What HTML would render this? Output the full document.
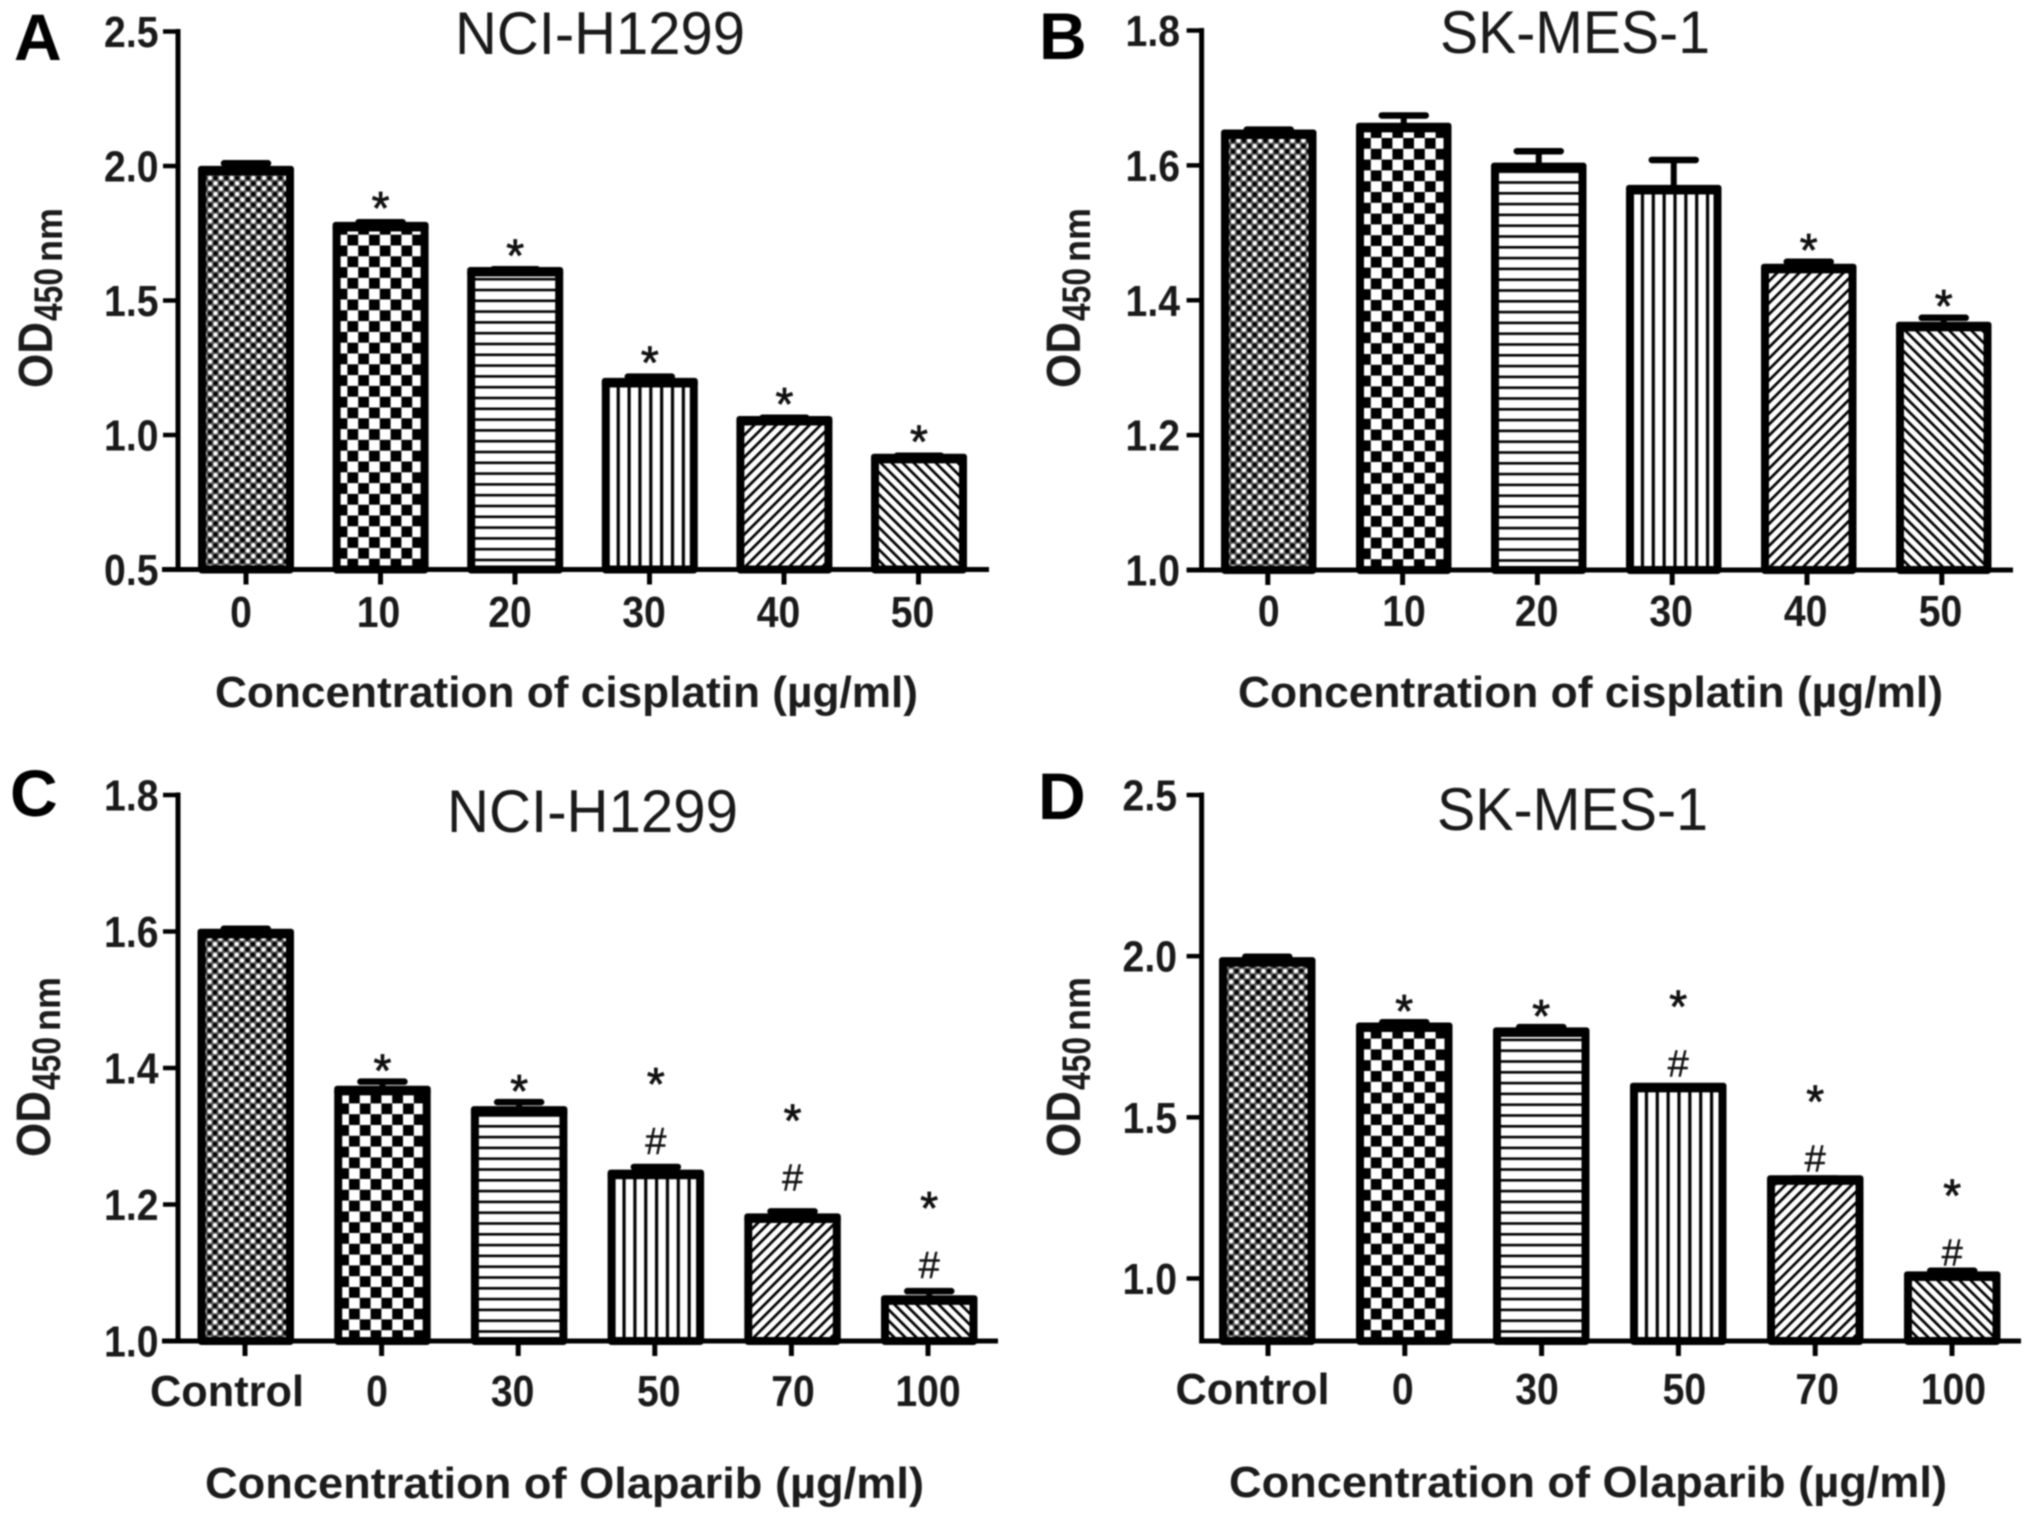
<!DOCTYPE html>
<html lang="en">
<head>
<meta charset="utf-8">
<title>OD450 bar charts: cisplatin and Olaparib</title>
<style>
  html, body { margin: 0; padding: 0; background: #fff; }
  body { width: 2031px; height: 1521px; overflow: hidden; }
  svg { display: block; filter: blur(0.8px); }
  text { font-family: "Liberation Sans", Arial, sans-serif; fill: #111; }
  .letter { font-size: 66px; font-weight: 700; fill: #000; }
  .title { font-size: 60px; fill: #1a1a1a; }
  .xtitle { font-size: 44px; font-weight: 700; fill: #1c1c1c; }
  .ytitle { font-weight: 700; fill: #1c1c1c; }
  .tick { font-size: 44px; font-weight: 700; fill: #1a1a1a; }
</style>
</head>
<body>
<svg id="figure" xmlns="http://www.w3.org/2000/svg" width="2031" height="1521" viewBox="0 0 2031 1521">
  <rect width="2031" height="1521" fill="#fff"/>
  <defs>
    <pattern id="p-dots" width="10.8" height="10.8" patternUnits="userSpaceOnUse">
      <rect width="10.8" height="10.8" fill="#5c5c5c"/>
      <circle cx="2.7" cy="2.7" r="2.2" fill="#fff"/>
      <circle cx="8.1" cy="8.1" r="2.2" fill="#fff"/>
      <circle cx="8.1" cy="2.7" r="2.2" fill="#000"/>
      <circle cx="2.7" cy="8.1" r="2.2" fill="#000"/>
    </pattern>
    <pattern id="p-check" width="21.6" height="21.6" patternUnits="userSpaceOnUse">
      <rect width="21.6" height="21.6" fill="#fff"/>
      <rect width="10.8" height="10.8" fill="#000"/>
      <rect x="10.8" y="10.8" width="10.8" height="10.8" fill="#000"/>
    </pattern>
    <pattern id="p-horizontal" width="10.8" height="10.8" patternUnits="userSpaceOnUse">
      <rect width="10.8" height="10.8" fill="#fff"/>
      <rect y="0" width="10.8" height="2.6" fill="#000"/>
    </pattern>
    <pattern id="p-vertical" width="10.85" height="10.8" patternUnits="userSpaceOnUse">
      <rect width="10.85" height="10.8" fill="#fff"/>
      <rect x="0" width="3.2" height="10.8" fill="#000"/>
    </pattern>
    <pattern id="p-diag-up" width="7.8" height="7.8" patternUnits="userSpaceOnUse" patternTransform="rotate(45)">
      <rect width="7.8" height="7.8" fill="#fff"/>
      <rect width="2.7" height="7.8" fill="#000"/>
    </pattern>
    <pattern id="p-diag-down" width="7.8" height="7.8" patternUnits="userSpaceOnUse" patternTransform="rotate(-45)">
      <rect width="7.8" height="7.8" fill="#fff"/>
      <rect width="2.7" height="7.8" fill="#000"/>
    </pattern>
  </defs>

  <g>
    <text class="letter" x="14" y="60">A</text>
    <text class="title" x="455" y="54" textLength="290" lengthAdjust="spacingAndGlyphs">NCI-H1299</text>
    <g transform="translate(52,388) rotate(-90)">
      <text class="ytitle" font-size="48" textLength="66" lengthAdjust="spacingAndGlyphs">OD</text>
      <text class="ytitle" x="67" y="10" font-size="40" textLength="53" lengthAdjust="spacingAndGlyphs">450</text>
      <text class="ytitle" x="126" y="10" font-size="38" textLength="54" lengthAdjust="spacingAndGlyphs">nm</text>
    </g>
    <text class="xtitle" x="215" y="707" textLength="703" lengthAdjust="spacingAndGlyphs">Concentration of cisplatin (µg/ml)</text>
    <g id="plot-a"></g>
  </g>

  <g>
    <text class="letter" x="1039" y="59">B</text>
    <text class="title" x="1440" y="53" textLength="270" lengthAdjust="spacingAndGlyphs">SK-MES-1</text>
    <g transform="translate(1080,388) rotate(-90)">
      <text class="ytitle" font-size="48" textLength="66" lengthAdjust="spacingAndGlyphs">OD</text>
      <text class="ytitle" x="67" y="10" font-size="40" textLength="53" lengthAdjust="spacingAndGlyphs">450</text>
      <text class="ytitle" x="126" y="10" font-size="38" textLength="54" lengthAdjust="spacingAndGlyphs">nm</text>
    </g>
    <text class="xtitle" x="1238" y="707" textLength="705" lengthAdjust="spacingAndGlyphs">Concentration of cisplatin (µg/ml)</text>
    <g id="plot-b"></g>
  </g>

  <g>
    <text class="letter" x="10" y="816">C</text>
    <text class="title" x="447" y="832" textLength="291" lengthAdjust="spacingAndGlyphs">NCI-H1299</text>
    <g transform="translate(50,1157) rotate(-90)">
      <text class="ytitle" font-size="48" textLength="66" lengthAdjust="spacingAndGlyphs">OD</text>
      <text class="ytitle" x="67" y="10" font-size="40" textLength="53" lengthAdjust="spacingAndGlyphs">450</text>
      <text class="ytitle" x="126" y="10" font-size="38" textLength="54" lengthAdjust="spacingAndGlyphs">nm</text>
    </g>
    <text class="xtitle" x="205" y="1498" textLength="719" lengthAdjust="spacingAndGlyphs">Concentration of Olaparib (µg/ml)</text>
    <g id="plot-c"></g>
  </g>

  <g>
    <text class="letter" x="1038" y="819">D</text>
    <text class="title" x="1437" y="830" textLength="271" lengthAdjust="spacingAndGlyphs">SK-MES-1</text>
    <g transform="translate(1080,1157) rotate(-90)">
      <text class="ytitle" font-size="48" textLength="66" lengthAdjust="spacingAndGlyphs">OD</text>
      <text class="ytitle" x="67" y="10" font-size="40" textLength="53" lengthAdjust="spacingAndGlyphs">450</text>
      <text class="ytitle" x="126" y="10" font-size="38" textLength="54" lengthAdjust="spacingAndGlyphs">nm</text>
    </g>
    <text class="xtitle" x="1229" y="1497" textLength="718" lengthAdjust="spacingAndGlyphs">Concentration of Olaparib (µg/ml)</text>
    <g id="plot-d"></g>
  </g>
</svg>

<script>
// ---- chart data ----
const categoriesA = ['0', '10', '20', '30', '40', '50'];
const valuesA = [1.98, 1.772, 1.604, 1.192, 1.05, 0.91];
const errorsA = [0.03, 0.019, 0.012, 0.025, 0.014, 0.013];
const markersA = ['', '*', '*', '*', '*', '*'];
const yTicksA = ['0.5', '1.0', '1.5', '2.0', '2.5'];

const categoriesB = ['0', '10', '20', '30', '40', '50'];
const valuesB = [1.645, 1.655, 1.596, 1.563, 1.446, 1.36];
const errorsB = [0.008, 0.019, 0.025, 0.045, 0.011, 0.014];
const markersB = ['', '', '', '', '*', '*'];
const yTicksB = ['1.0', '1.2', '1.4', '1.6', '1.8'];

const categoriesC = ['Control', '0', '30', '50', '70', '100'];
const valuesC = [1.596, 1.366, 1.336, 1.243, 1.179, 1.059];
const errorsC = [0.008, 0.014, 0.014, 0.012, 0.011, 0.014];
const markersC = ['', '*', '*', '*#', '*#', '*#'];
const yTicksC = ['1.0', '1.2', '1.4', '1.6', '1.8'];

const categoriesD = ['Control', '0', '30', '50', '70', '100'];
const valuesD = [1.98, 1.777, 1.762, 1.59, 1.303, 1.005];
const errorsD = [0.018, 0.018, 0.018, 0.006, 0.007, 0.019];
const markersD = ['', '*', '*', '*#', '*#', '*#'];
const yTicksD = ['1.0', '1.5', '2.0', '2.5'];

const barFills = ['p-dots', 'p-check', 'p-horizontal', 'p-vertical', 'p-diag-up', 'p-diag-down'];

const NS = 'http://www.w3.org/2000/svg';

function make(parent, tag, attrs, text) {
  const el = document.createElementNS(NS, tag);
  for (const k in attrs) el.setAttribute(k, attrs[k]);
  if (text !== undefined) el.textContent = text;
  parent.appendChild(el);
  return el;
}

function squeeze(el) {
  el.setAttribute('textLength', el.getComputedTextLength() * 0.89);
  el.setAttribute('lengthAdjust', 'spacingAndGlyphs');
}

function drawPanel(id, layout, categories, values, errors, markers, yTicks) {
  const root = document.getElementById(id);
  const yScale = v => layout.base - (v - layout.yMin) / (layout.yMax - layout.yMin) * (layout.base - layout.top);
  const barLeft = i => layout.barLeft + i * layout.barStep;
  const tickX = i => layout.tick0 + i * layout.tickStep;
  const ink = '#000';
  const bw = 8;

  // bars
  values.forEach((v, i) => {
    const left = barLeft(i);
    const cx = left + layout.barW / 2;
    const yTop = yScale(v);
    const yErr = yScale(v + errors[i]);

    const stem = make(root, 'line', { x1: cx, x2: cx, y1: yTop, y2: yErr, stroke: ink, 'stroke-width': 6 });
    
    

    const cap = make(root, 'line', { x1: cx - 22, x2: cx + 22, y1: yErr, y2: yErr, stroke: ink, 'stroke-width': 6.5, 'stroke-linecap': 'round' });
    
    

    const holder = make(root, 'g', { transform: 'translate(' + (left + bw / 2) + ',' + layout.base + ')' });
    
    

    const bar = make(holder, 'rect', {
      x: 0, y: yTop - layout.base, width: layout.barW - bw, height: layout.base - yTop,
      fill: 'url(#' + barFills[i] + ')', stroke: ink, 'stroke-width': bw, 'stroke-linejoin': 'round'
    });
    
    

    const topEdge = make(root, 'rect', { x: left, y: yTop - 5.5, width: layout.barW, height: 9.5, rx: 3, fill: ink });
    
    

    const marks = markers[i];
    if (marks) {
      const hasHash = marks.indexOf('#') >= 0;
      const nudge = layout.markNudge[i];
      const hashCenter = yErr - layout.hashGap + nudge;
      const starCenter = hasHash ? hashCenter - 61 : yErr - layout.starGap;
      const star = make(root, 'text', { x: cx, y: starCenter + 20, 'text-anchor': 'middle', 'font-size': 46, stroke: '#111', 'stroke-width': 0.8 }, '*');
      
      
      if (hasHash) {
        const hash = make(root, 'text', { x: cx, y: hashCenter + 13, 'text-anchor': 'middle', 'font-size': 38, stroke: '#111', 'stroke-width': 0.4 }, '#');
        
        
      }
    }
  });

  // axes
  const yAxis = make(root, 'line', { x1: layout.axisX, x2: layout.axisX, y1: layout.top - 2.5, y2: layout.base + 2.5, stroke: ink, 'stroke-width': 5 });
  
  

  const xAxis = make(root, 'line', { x1: layout.xStart, x2: layout.xEnd, y1: layout.base, y2: layout.base, stroke: ink, 'stroke-width': 5 });
  
  

  // y ticks
  yTicks.forEach(label => {
    const y = yScale(parseFloat(label));
    const mark = make(root, 'line', { x1: layout.axisX - 15, x2: layout.axisX, y1: y, y2: y, stroke: ink, 'stroke-width': 4.5 });
    
    

    const t = make(root, 'text', { class: 'tick', x: layout.labelRight, y: y + 15.5, 'text-anchor': 'end' }, label);
    
    
    squeeze(t);
  });

  // x ticks
  categories.forEach((label, i) => {
    const x = tickX(i);
    const mark = make(root, 'line', { x1: x, x2: x, y1: layout.base, y2: layout.base + 15, stroke: ink, 'stroke-width': 5 });
    
    

    const t = make(root, 'text', { class: 'tick', x: x + layout.labelNudge[i], y: layout.labelY, 'text-anchor': 'middle' }, label);
    
    
    if (label === 'Control') {
      t.setAttribute('textLength', 154);
      t.setAttribute('lengthAdjust', 'spacingAndGlyphs');
    } else {
      squeeze(t);
    }
  });
}

drawPanel('plot-a', {
  axisX: 178, top: 31.5, base: 569.5, yMin: 0.5, yMax: 2.5, xStart: 162, xEnd: 989,
  barLeft: 198, barW: 96, barStep: 134.6, tick0: 246, tickStep: 134.5,
  labelRight: 158.5, labelY: 627, labelNudge: [-5, -2, -5, -5.5, -5.5, -6],
  markNudge: [0, 0, 0, 0, 0, 0], starGap: 18, hashGap: 26
}, categoriesA, valuesA, errorsA, markersA, yTicksA);

drawPanel('plot-b', {
  axisX: 1201.6, top: 30.5, base: 570, yMin: 1.0, yMax: 1.8, xStart: 1186.7, xEnd: 2013,
  barLeft: 1221, barW: 95.5, barStep: 135, tick0: 1267.8, tickStep: 134.8,
  labelRight: 1180, labelY: 626, labelNudge: [1, 1.4, -0.7, -1, -1.3, -1.3],
  markNudge: [0, 0, 0, 0, 0, 0], starGap: 16, hashGap: 26
}, categoriesB, valuesB, errorsB, markersB, yTicksB);

drawPanel('plot-c', {
  axisX: 178, top: 795, base: 1341, yMin: 1.0, yMax: 1.8, xStart: 162, xEnd: 998,
  barLeft: 197.5, barW: 96.5, barStep: 136.7, tick0: 245, tickStep: 136.6,
  labelRight: 158.5, labelY: 1406, labelNudge: [-18, -4.6, -5.6, 4, 1.6, 0],
  markNudge: [0, 0, 0, 0, -8, 0], starGap: 15, hashGap: 26
}, categoriesC, valuesC, errorsC, markersC, yTicksC);

drawPanel('plot-d', {
  axisX: 1201.6, top: 795, base: 1341, yMin: 0.806, yMax: 2.5, xStart: 1199.7, xEnd: 2021,
  barLeft: 1219, barW: 96.5, barStep: 137, tick0: 1268, tickStep: 136.8,
  labelRight: 1177, labelY: 1404, labelNudge: [-15.5, -2, -4.6, 6, 2, 1.4],
  markNudge: [0, 0, 0, -5, -2, 0], starGap: 15, hashGap: 18
}, categoriesD, valuesD, errorsD, markersD, yTicksD);
</script>
</body>
</html>
